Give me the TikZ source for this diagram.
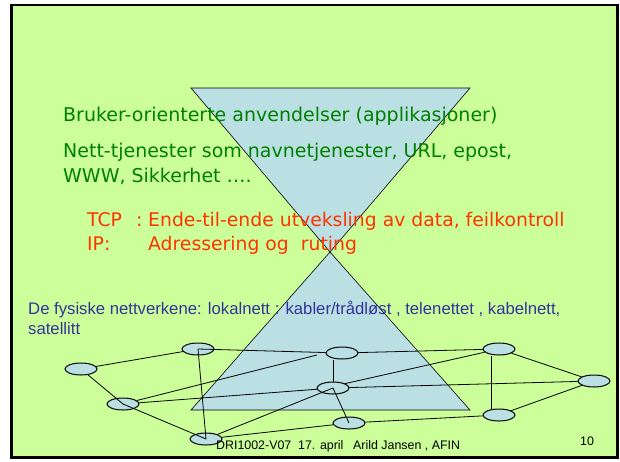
\documentclass[tikz,border=0pt]{standalone}
\usepackage{fontspec}
\setmainfont{Liberation Sans}
\newfontfamily\comicfont{DejaVu Sans}
\usepackage{tikz}
\usetikzlibrary{positioning, calc, shapes.geometric}

\definecolor{slidegreen}{HTML}{CCFF99}
\definecolor{hostblue}{HTML}{BBE0E3}
\definecolor{apptext}{HTML}{008000}
\definecolor{nettext}{HTML}{FF3300}
\definecolor{phystext}{HTML}{333399}

\begin{document}
\begin{tikzpicture}[x=1pt, y=-1pt,
		host/.style={shape=ellipse, draw=black, line width=1pt, fill=hostblue, minimum width=32pt, minimum height=12pt, inner sep=0pt},
		layer/.style={draw=black, line width=0.6pt, fill=hostblue},
		apptxt/.style={anchor=base west, inner sep=0pt, text=apptext, font=\comicfont\fontsize{19}{22}\selectfont},
		nettxt/.style={anchor=base west, inner sep=0pt, text=nettext, font=\comicfont\fontsize{18.8}{22}\selectfont},
		phystxt/.style={anchor=base west, inner sep=0pt, text=phystext, font=\fontsize{16.7}{19}\selectfont},
		foottxt/.style={anchor=base west, inner sep=0pt, font=\fontsize{12.4}{14}\selectfont}]

		\useasboundingbox (0,0) rectangle (620,461);
		\fill[white] (0,0) rectangle (620,461);
		\draw[line width=2.5pt, fill=slidegreen] (11.5,5) rectangle (617.5,457.5);

		% hourglass
		\draw[layer] (191,88) -- (470,88) -- (330,252) -- cycle;
		\draw[layer] (330,252) -- (191,410) -- (470,410) -- cycle;

		\node[apptxt] (app) at (63,121) {Bruker-orienterte anvendelser (applikasjoner)};
		\node[apptxt] (svc) at (63,157) {Nett-tjenester som navnetjenester, URL, epost,};
		\node[apptxt] (www) at (63,182) {WWW, Sikkerhet ….};

		\node[nettxt] (tcp) at (87,226) {TCP};
		\node[nettxt] (tcpsep) at (136,226) {:};
		\node[nettxt] (tcpdesc) at (148,226) {Ende-til-ende utveksling av data, feilkontroll};
		\node[nettxt] (ip) at (87,250) {IP:};
		\node[nettxt] (ipdesc) at (148,250) {Adressering og\ \ ruting};

		\node[phystxt] (phys) at (28,314) {De fysiske nettverkene: lokalnett : kabler/trådløst , telenettet , kabelnett,};
		\node[phystxt] (sat) at (28,334) {satellitt};

		% network
		\node[host] (n1) at (81,369) {};
		\node[host] (n2) at (198,349) {};
		\node[host] (n3) at (342,353) {};
		\node[host] (n4) at (333,388) {};
		\node[host] (n5) at (499,349) {};
		\node[host] (n6) at (594,381) {};
		\node[host] (n7) at (123,404) {};
		\node[host] (n8) at (349,423) {};
		\node[host] (n9) at (499,415) {};
		\node[host] (n10) at (206,439) {};
		\coordinate (tip) at (317,355);

		\begin{scope}[line width=0.8pt]
			\path (n1) edge (n2);
			\path (n1) edge (n7.center);
			\path (n2.center) edge (n3);
			\path (n2.center) edge (n10.center);
			\path (n3) edge (n5);
			\path (n4.north) edge (n4.north |- n3.south);
			\path (n7) edge (tip);
			\path (n7) edge (n4);
			\path (n7.center) edge (n10.center);
			\path (n4.center) edge (n10);
			\path (n4.center) edge (n8.center);
			\path (n4) edge (n6);
			\path (n4.20) edge (n5);
			\path (n10) edge (n8);
			\path (n8) edge (n9);
			\path ([xshift=-8pt]n5.south) edge ([xshift=-8pt]n9.north);
			\path (n5) edge (n6);
			\path (n9) edge (n6);
		\end{scope}

		\node[foottxt] (course) at (216,449) {DRI1002-V07};
		\node[foottxt] (date) at (298,449) {17. april};
		\node[foottxt] (author) at (353,449) {Arild Jansen , AFIN};
		\node[foottxt, anchor=base] (page) at (587,445) {10};

	\end{tikzpicture}
\end{document}
